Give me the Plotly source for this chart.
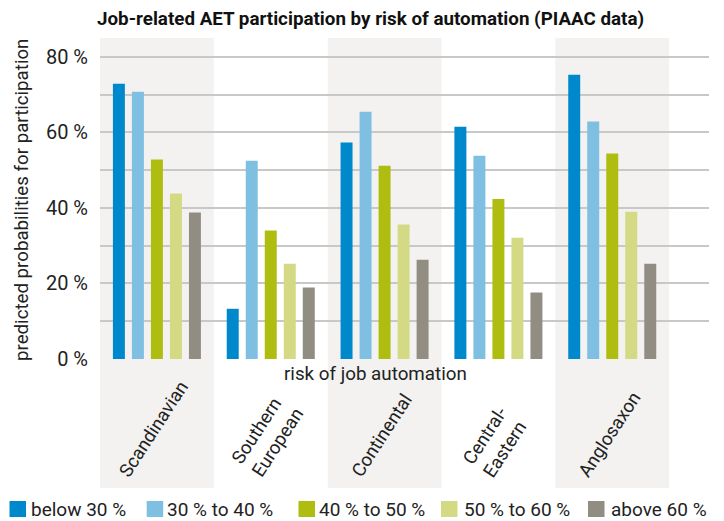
import plotly.graph_objects as go

categories = ["Scandinavian", "Southern European", "Continental", "Central-Eastern", "Anglosaxon"]
category_labels = ["Scandinavian", "Southern<br>European", "Continental", "Central-<br>Eastern", "Anglosaxon"]
series_names = ["below 30 %", "30 % to 40 %", "40 % to 50 %", "50 % to 60 %", "above 60 %"]
below_30 = [72.9, 13.3, 57.3, 61.5, 75.3]
from_30_to_40 = [70.8, 52.5, 65.5, 53.8, 62.9]
from_40_to_50 = [52.8, 34.0, 51.2, 42.4, 54.4]
from_50_to_60 = [43.8, 25.2, 35.6, 32.1, 39.0]
above_60 = [38.8, 18.9, 26.3, 17.6, 25.2]
y_tick_values = [0, 10, 20, 30, 40, 50, 60, 70, 80]
y_tick_labels = ["0 %", "", "20 %", "", "40 %", "", "60 %", "", "80 %"]

colors = ["#0088cc", "#7fbfe1", "#afbd10", "#d4d983", "#928d83"]
series = [below_30, from_30_to_40, from_40_to_50, from_50_to_60, above_60]
FONT = "Roboto, sans-serif"
TXT = "#222222"

# layout geometry (pixels)
W, H = 724, 521
ML, MR, MT, MB = 100, 15, 38, 162
PW, PH = W - ML - MR, H - MT - MB


def px_x(px):
    return (px - ML) / PW


def px_y(py):
    return (H - MB - py) / PH


fig = go.Figure()
for name, vals, col in zip(series_names, series, colors):
    fig.add_trace(go.Bar(x=categories, y=vals, name=name, showlegend=False,
                         marker=dict(color=col, line=dict(width=0))))

shapes = []
for i in (0, 2, 4):
    shapes.append(dict(type="rect", xref="x", yref="paper", x0=i - 0.5, x1=i + 0.5,
                       y0=px_y(488), y1=1, fillcolor="#f3f2f0", line=dict(width=0), layer="below"))

annotations = []
for cat, lab in zip(categories, category_labels):
    annotations.append(dict(x=cat, xref="x", y=px_y(484), yref="paper", text=lab, showarrow=False,
                            textangle=-57, xanchor="center", yanchor="bottom", xshift=-3, align="left",
                            font=dict(family=FONT, size=18.5, color=TXT)))
annotations.append(dict(x=px_x(375), xref="paper", y=px_y(374), yref="paper", text="risk of job automation",
                        showarrow=False, xanchor="center", yanchor="middle",
                        font=dict(family=FONT, size=18.8, color=TXT)))
annotations.append(dict(x=px_x(22), xref="paper", y=px_y(200), yref="paper",
                        text="predicted probabilities for participation", textangle=-90,
                        showarrow=False, xanchor="center", yanchor="middle",
                        font=dict(family=FONT, size=18.7, color=TXT)))

# manual legend
legend_square_left = [9.5, 146.7, 298.5, 441, 588]
legend_text_left = [30.5, 167, 319, 463.5, 611]
for name, col, sx, tx in zip(series_names, colors, legend_square_left, legend_text_left):
    shapes.append(dict(type="rect", xref="paper", yref="paper", x0=px_x(sx), x1=px_x(sx + 16.5),
                       y0=px_y(517), y1=px_y(501), fillcolor=col, line=dict(width=0)))
    annotations.append(dict(x=px_x(tx - 2), xref="paper", y=px_y(509.5), yref="paper", text=name,
                            showarrow=False, xanchor="left", yanchor="middle",
                            font=dict(family=FONT, size=19, color=TXT)))

fig.update_layout(
    width=W, height=H,
    margin=dict(l=ML, r=MR, t=MT, b=MB),
    paper_bgcolor="white", plot_bgcolor="white",
    barmode="group", bargap=0.165, bargroupgap=0.37,
    showlegend=False,
    title=dict(text="<b>Job-related AET participation by risk of automation (PIAAC data)</b>",
               x=97 / W, xanchor="left", xref="container", y=1 - 18 / H, yanchor="middle",
               yref="container", font=dict(family=FONT, size=18.8, color="#111111")),
    xaxis=dict(range=[-0.5, 4.85], showticklabels=False, showgrid=False, zeroline=False, ticks=""),
    yaxis=dict(range=[0, 85], tickvals=y_tick_values, ticktext=y_tick_labels, showgrid=True,
               gridcolor="#c8c8c8", gridwidth=1.5, zeroline=False, ticks="", ticklabelstandoff=11,
               tickfont=dict(family=FONT, size=20, color=TXT)),
    shapes=shapes, annotations=annotations,
)
fig.write_html("out.html", config={"displayModeBar": False},
               post_script="document.body.style.margin='0px';")
